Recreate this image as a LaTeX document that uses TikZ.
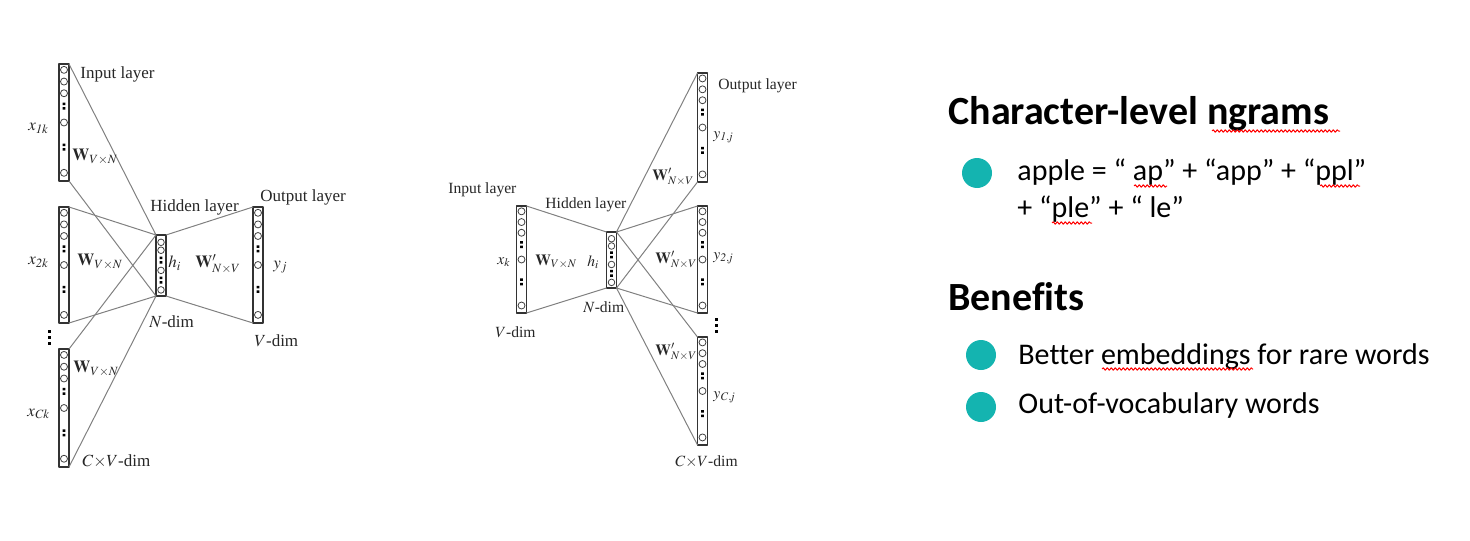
\documentclass[tikz,border=0pt]{standalone}
\usepackage{mathptmx}
\usepackage{fontspec}
\setmainfont{Liberation Serif}
\newfontfamily\slidefont[Ligatures=NoCommon]{Carlito}
\usetikzlibrary{calc,decorations.pathmorphing}
\definecolor{bulletteal}{RGB}{20,180,176}

\tikzset{
  layerbox/.style={draw=black!80, line width=0.7pt, minimum width=5pt, inner sep=0pt, outer sep=0pt},
  unit/.style={draw=black!75, line width=0.4pt},
  wire/.style={draw=black!50, line width=0.5pt},
  lbl/.style={anchor=west, inner sep=0pt, text=black!85},
  spell/.style={draw=red, line width=0.5pt, decorate, decoration={snake, segment length=2pt, amplitude=0.6pt}},
  bullet/.style={circle, fill=bulletteal, minimum size=15pt, inner sep=0pt},
  slide/.style={anchor=base west, inner sep=0pt, font=\slidefont\fontsize{15}{18}\selectfont},
  heading/.style={anchor=base west, inner sep=0pt, font=\slidefont\bfseries\fontsize{20}{24}\selectfont}
}

% one-hot / output vector: name, x, top, bottom
\newcommand{\veclayer}[4]{%
  \node[layerbox, minimum height={(#4-#3)*0.5pt}] (#1) at (#2,{(#3+#4)/2}) {};
  \foreach \fr in {0.05,0.15,0.25,0.5,0.93}
    \draw[unit] ($(#1.north)!\fr!(#1.south)$) circle (3.5);
  \foreach \fr in {0.36,0.71}
    \fill[black] ($(#1.north)!\fr!(#1.south)$) +(-1.3,-3.5) rectangle +(1.3,-1) +(-1.3,1) rectangle +(1.3,3.5);
}
% hidden vector
\newcommand{\hidlayer}[4]{%
  \node[layerbox, minimum height={(#4-#3)*0.5pt}] (#1) at (#2,{(#3+#4)/2}) {};
  \foreach \fr in {0.12,0.25,0.58,0.9}
    \draw[unit] ($(#1.north)!\fr!(#1.south)$) circle (3.3);
  \foreach \fr in {0.41,0.74}
    \fill[black] ($(#1.north)!\fr!(#1.south)$) +(-1.3,-3.5) rectangle +(1.3,-1) +(-1.3,1) rectangle +(1.3,3.5);
}

\begin{document}
\begin{tikzpicture}[x=0.5pt, y=-0.5pt, line join=round]
  \useasboundingbox (0,0) rectangle (1470,540);

  % CBOW
  \begin{scope}[font=\fontsize{8.5}{10}\selectfont]
    \veclayer{in1}{64}{64}{181}
    \veclayer{in2}{64}{207}{323}
    \veclayer{in3}{64}{349}{467}
    \hidlayer{hid}{161}{235}{296}
    \veclayer{out}{258}{207}{323}
    \foreach \d in {-6,0,6}
      \fill (47.5,{337+\d-1.5}) rectangle (50.5,{337+\d+1.5});

    \draw[wire] (hid.north west) -- (in1.north east) (hid.north west) -- (in2.north east) (hid.north west) -- (in3.north east);
    \draw[wire] (hid.south west) -- (in1.south east) (hid.south west) -- (in2.south east) (hid.south west) -- (in3.south east);
    \draw[wire] (hid.north east) -- (out.north west) (hid.south east) -- (out.south west);

    \node[lbl] (inlbl) at (80,74) {Input layer};
    \node[lbl] (x1) at (28,128) {$x_{\mathit{1k}}$};
    \node[lbl] (w1) at (72,157) {$\mathbf{W}_{V{\times}N}$};
    \node[lbl] (x2) at (28,262) {$x_{\mathit{2k}}$};
    \node[lbl] (w2) at (77,262) {$\mathbf{W}_{V{\times}N}$};
    \node[lbl] (x3) at (27,414) {$x_{\mathit{Ck}}$};
    \node[lbl] (w3) at (73,369) {$\mathbf{W}_{V{\times}N}$};
    \node[lbl] (cvdim) at (82,461) {$C{\times}V$-dim};
    \node[lbl] (hidlbl) at (150,207) {Hidden layer};
    \node[lbl] (hi) at (168,263) {$h_i$};
    \node[lbl] (wout) at (195,264) {$\mathbf{W}'_{N{\times}V}$};
    \node[lbl] (outlbl) at (260,197) {Output layer};
    \node[lbl] (yj) at (273,267) {$y_j$};
    \node[lbl] (ndim) at (149,322) {$N$-dim};
    \node[lbl] (vdim) at (254,341) {$V$-dim};
  \end{scope}

  % Skip-gram
  \begin{scope}[font=\fontsize{7.8}{9}\selectfont]
    \veclayer{sin}{521.5}{206}{313}
    \hidlayer{shid}{611.5}{232}{288}
    \veclayer{sout1}{702.5}{73}{182}
    \veclayer{sout2}{702.5}{206}{313}
    \veclayer{sout3}{702.5}{337}{445}
    \foreach \d in {-6,0,6}
      \fill (714.5,{325+\d-1.5}) rectangle (717.5,{325+\d+1.5});

    \draw[wire] (sin.north east) -- (shid.north west) (sin.south east) -- (shid.south west);
    \draw[wire] (shid.north east) -- (sout1.north west) (shid.north east) -- (sout2.north west) (shid.north east) -- (sout3.north west);
    \draw[wire] (shid.south east) -- (sout1.south west) (shid.south east) -- (sout2.south west) (shid.south east) -- (sout3.south west);

    \node[lbl] (sinlbl) at (448,190) {Input layer};
    \node[lbl] (shidlbl) at (545,205) {Hidden layer};
    \node[lbl] (soutlbl) at (718,86) {Output layer};
    \node[lbl] (sy1) at (713,137) {$y_{\mathit{1,j}}$};
    \node[lbl] (sw1) at (652,177) {$\mathbf{W}'_{N{\times}V}$};
    \node[lbl] (sx) at (497,262) {$x_k$};
    \node[lbl] (sw) at (535,262) {$\mathbf{W}_{V{\times}N}$};
    \node[lbl] (shi) at (587,262) {$h_i$};
    \node[lbl] (sw2) at (655,260) {$\mathbf{W}'_{N{\times}V}$};
    \node[lbl] (sy2) at (713,258) {$y_{\mathit{2,j}}$};
    \node[lbl] (sndim) at (583,307) {$N$-dim};
    \node[lbl] (svdim) at (495,332) {$V$-dim};
    \node[lbl] (sw3) at (655,352) {$\mathbf{W}'_{N{\times}V}$};
    \node[lbl] (sy3) at (713,397) {$y_{\mathit{C,j}}$};
    \node[lbl] (scvdim) at (675,462) {$C{\times}V$-dim};
  \end{scope}

  % slide text
  \node[heading] (ngrams) at (948,125) {Character-level ngrams};
  \node[bullet] (b1) at (977,173) {};
  \node[slide] (apple) at (1017,180) {apple = “ ap” + “app” + “ppl”};
  \node[slide] (apple2) at (1017,217) {+ “ple” + “ le”};
  \node[heading] (benefits) at (948,310) {Benefits};
  \node[bullet] (b2) at (981,355) {};
  \node[slide] (rare) at (1018,364) {Better embeddings for rare words};
  \node[bullet] (b3) at (981,407) {};
  \node[slide] (oov) at (1018,413) {Out-of-vocabulary words};

  \draw[spell] (1212,131) -- (1340,131);
  \draw[spell] (1134,186) -- (1167,186);
  \draw[spell] (1320,186) -- (1360,186);
  \draw[spell] (1052,223) -- (1092,223);
  \draw[spell] (1102,369) -- (1253,369);
\end{tikzpicture}
\end{document}
